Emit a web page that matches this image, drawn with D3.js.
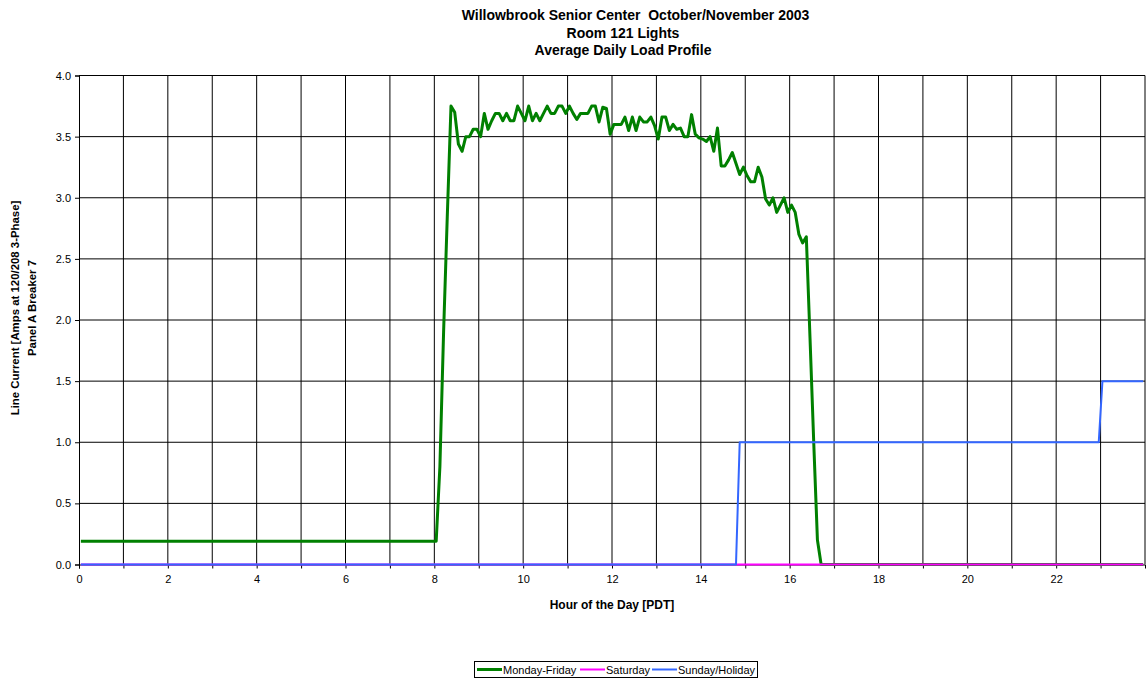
<!DOCTYPE html>
<html>
<head>
<meta charset="utf-8">
<script src="https://cdn.jsdelivr.net/npm/d3@7"></script>
<style>
  html, body { margin: 0; padding: 0; background: #ffffff; }
  svg { display: block; font-family: "Liberation Sans", Arial, sans-serif; }
  text { white-space: pre; }
</style>
</head>
<body>
<svg id="chart" width="1146" height="682"></svg>
<script>
// ---- Data: average 5-minute load readings, amps ----
const titleLines = ["Willowbrook Senior Center  October/November 2003", "Room 121 Lights", "Average Daily Load Profile"];
const yTitleLines = ["Line Current [Amps at 120/208 3-Phase]", "Panel A Breaker 7"];
const xTitle = "Hour of the Day [PDT]";
const seriesNames = ["Monday-Friday", "Saturday", "Sunday/Holiday"];
const seriesColors = ["#008000", "#ff00ff", "#3366ff"];

const xTickLabels = ["0", "2", "4", "6", "8", "10", "12", "14", "16", "18", "20", "22"];
const yTickValues = [0, 0.5, 1.0, 1.5, 2.0, 2.5, 3.0, 3.5, 4.0];

// Monday-Friday: overnight plateau, daytime readings every 5 minutes from 08:05, then off
const weekdayOvernight = [["00:00", 0.19], ["08:00", 0.19]];
const weekdayDayStart = "08:05";
const weekdayDaytime = [
  0.80, 1.90, 2.85, 3.75, 3.70, 3.44, 3.38, 3.50, 3.50, 3.56, 3.56, 3.50,
  3.69, 3.56, 3.63, 3.69, 3.69, 3.63, 3.69, 3.63, 3.63, 3.75, 3.69, 3.63,
  3.75, 3.63, 3.69, 3.63, 3.69, 3.75, 3.69, 3.69, 3.75, 3.75, 3.69, 3.75,
  3.69, 3.64, 3.69, 3.69, 3.69, 3.75, 3.75, 3.62, 3.74, 3.73, 3.52, 3.60,
  3.60, 3.60, 3.66, 3.55, 3.66, 3.55, 3.66, 3.62, 3.62, 3.66, 3.59, 3.48,
  3.66, 3.66, 3.55, 3.60, 3.56, 3.57, 3.50, 3.50, 3.68, 3.52, 3.49, 3.48,
  3.46, 3.50, 3.38, 3.57, 3.26, 3.26, 3.31, 3.37, 3.28, 3.19, 3.25, 3.18,
  3.13, 3.13, 3.25, 3.17, 2.99, 2.94, 3.00, 2.88, 2.94, 3.00, 2.88, 2.94,
  2.88, 2.70, 2.63, 2.68, 1.85, 1.00, 0.20, 0.00
];
const weekdayEvening = [["23:55", 0.0]];

// Saturday: no load all day
const saturdayPoints = [["00:00", 0.0], ["23:55", 0.0]];

// Sunday/Holiday: step changes in the afternoon and late evening
const sundayPoints = [
  ["00:00", 0.0], ["14:45", 0.0], ["14:50", 1.0],
  ["22:55", 1.0], ["23:00", 1.5], ["23:55", 1.5]
];

// ---- Helpers ----
const binMinutes = 5;
const toHours = s => { const [h, m] = s.split(":").map(Number); return h + m / 60; };
const pairPoints = arr => arr.map(([t, v]) => ({ t: toHours(t), v }));

const weekdayPoints = [
  ...pairPoints(weekdayOvernight),
  ...weekdayDaytime.map((v, i) => ({ t: toHours(weekdayDayStart) + i * binMinutes / 60, v })),
  ...pairPoints(weekdayEvening)
];
const series = [
  { name: seriesNames[0], color: seriesColors[0], width: 3, points: weekdayPoints },
  { name: seriesNames[1], color: seriesColors[1], width: 2, points: pairPoints(saturdayPoints) },
  { name: seriesNames[2], color: seriesColors[2], width: 2, points: pairPoints(sundayPoints) }
];

// ---- Layout ----
const svg = d3.select("#chart");
const plot = { left: 79, right: 1145, top: 75.5, bottom: 564.5 };

const x = d3.scaleLinear().domain([0, 24]).range([plot.left, plot.right]);
const y = d3.scaleLinear().domain([0, 4]).range([plot.bottom, plot.top]);
// each reading is plotted at the middle of its 5-minute interval
const xPos = t => x(t + binMinutes / 120);

// grid
const grid = svg.append("g");
grid.selectAll("line.v").data(d3.range(1, 25)).join("line")
  .attr("x1", d => x(d)).attr("x2", d => x(d))
  .attr("y1", plot.top).attr("y2", plot.bottom)
  .attr("stroke", "#000").attr("stroke-width", 1);
grid.selectAll("line.h").data(yTickValues.slice(1)).join("line")
  .attr("x1", plot.left).attr("x2", plot.right)
  .attr("y1", d => y(d)).attr("y2", d => y(d))
  .attr("stroke", "#000").attr("stroke-width", 1);

// axes
const xAxis = d3.axisBottom(x)
  .tickValues(d3.range(0, 24))
  .tickSize(4)
  .tickFormat(d => xTickLabels.includes(String(d)) ? String(d) : "");
const gx = svg.append("g").attr("transform", `translate(0,${plot.bottom})`).call(xAxis);
gx.select(".domain").attr("stroke", "#000");
gx.selectAll(".tick line").attr("stroke", "#000");
gx.selectAll(".tick text").attr("font-size", 11).attr("fill", "#000")
  .attr("font-family", "Liberation Sans, Arial, sans-serif").attr("dy", "1.05em");

const yAxis = d3.axisLeft(y).tickValues(yTickValues).tickSize(4).tickFormat(d3.format(".1f"));
const gy = svg.append("g").attr("transform", `translate(${plot.left},0)`).call(yAxis);
gy.select(".domain").attr("stroke", "#000");
gy.selectAll(".tick line").attr("stroke", "#000");
gy.selectAll(".tick text").attr("font-size", 11).attr("fill", "#000")
  .attr("font-family", "Liberation Sans, Arial, sans-serif").attr("dx", "-1");

// series lines
const line = d3.line().x(d => xPos(d.t)).y(d => y(d.v));
svg.append("g").selectAll("path").data(series).join("path")
  .attr("d", d => line(d.points))
  .attr("fill", "none")
  .attr("stroke", d => d.color)
  .attr("stroke-width", d => d.width)
  .attr("stroke-linejoin", "round");

// titles
const titleX = [635.5, 623, 623];
const titleY = [19.5, 37.5, 55];
svg.append("g").selectAll("text").data(titleLines).join("text")
  .attr("x", (d, i) => titleX[i]).attr("y", (d, i) => titleY[i])
  .attr("text-anchor", "middle").attr("font-weight", "bold").attr("font-size", 14)
  .text(d => d);

svg.append("text")
  .attr("x", 612).attr("y", 609)
  .attr("text-anchor", "middle").attr("font-weight", "bold").attr("font-size", 12)
  .text(xTitle);

const yTitleCenter = 308;
svg.append("g").selectAll("text").data(yTitleLines).join("text")
  .attr("transform", (d, i) => `translate(${19 + i * 16.5},${yTitleCenter}) rotate(-90)`)
  .attr("text-anchor", "middle").attr("font-weight", "bold").attr("font-size", 11.4)
  .text(d => d);

// legend
const legend = svg.append("g");
legend.append("rect")
  .attr("x", 474.5).attr("y", 661.5).attr("width", 283).attr("height", 16)
  .attr("fill", "#fff").attr("stroke", "#000").attr("stroke-width", 1);
const legendX = [477, 580, 652];
const items = legend.selectAll("g.item").data(series).join("g")
  .attr("transform", (d, i) => `translate(${legendX[i]},669.5)`);
items.append("line").attr("x1", 0).attr("x2", 25).attr("y1", 0).attr("y2", 0)
  .attr("stroke", d => d.color).attr("stroke-width", d => d.width);
items.append("text").attr("x", 26).attr("y", 4).attr("font-size", 11)
  .text(d => d.name);
</script>
</body>
</html>
